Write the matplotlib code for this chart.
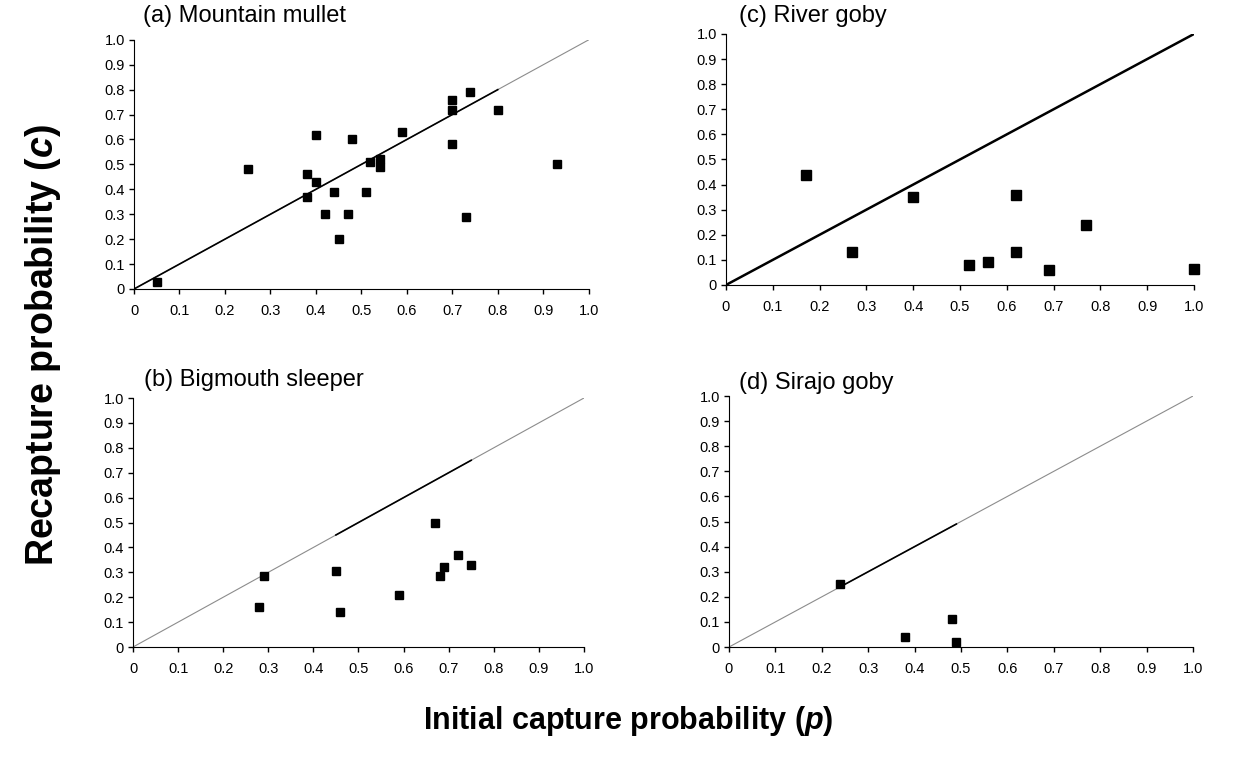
import matplotlib
matplotlib.use("Agg")
import matplotlib.pyplot as plt

plt.rcParams['font.family'] = ['Liberation Sans', 'DejaVu Sans']
plt.rcParams['mathtext.fontset'] = 'custom'
plt.rcParams['mathtext.it'] = 'Liberation Sans:italic:bold'
plt.rcParams['mathtext.rm'] = 'Liberation Sans:bold'

# (a) Mountain mullet
mullet_p = [0.05, 0.25, 0.38, 0.38, 0.40, 0.40, 0.42, 0.44, 0.45, 0.47, 0.48, 0.51,
            0.52, 0.54, 0.54, 0.59, 0.70, 0.70, 0.70, 0.73, 0.74, 0.80, 0.93]
mullet_c = [0.03, 0.48, 0.46, 0.37, 0.62, 0.43, 0.30, 0.39, 0.20, 0.30, 0.60, 0.39,
            0.51, 0.52, 0.49, 0.63, 0.76, 0.72, 0.58, 0.29, 0.79, 0.72, 0.50]

# (b) Bigmouth sleeper
sleeper_p = [0.28, 0.29, 0.45, 0.46, 0.59, 0.67, 0.68, 0.69, 0.72, 0.75]
sleeper_c = [0.16, 0.285, 0.305, 0.14, 0.21, 0.50, 0.285, 0.32, 0.37, 0.33]

# (c) River goby
river_p = [0.17, 0.27, 0.40, 0.52, 0.56, 0.62, 0.62, 0.69, 0.77, 1.0]
river_c = [0.44, 0.13, 0.35, 0.08, 0.09, 0.36, 0.13, 0.06, 0.24, 0.065]

# (d) Sirajo goby
sirajo_p = [0.24, 0.38, 0.48, 0.49]
sirajo_c = [0.25, 0.04, 0.11, 0.02]

titles = ["(a) Mountain mullet", "(b) Bigmouth sleeper", "(c) River goby", "(d) Sirajo goby"]
# range of the darker part of the 1:1 line
dark_ranges = [(0.0, 0.80), (0.45, 0.75), (0.0, 1.0), (0.24, 0.49)]

ticks = [0, 0.1, 0.2, 0.3, 0.4, 0.5, 0.6, 0.7, 0.8, 0.9, 1.0]
tick_labels = ["0", "0.1", "0.2", "0.3", "0.4", "0.5", "0.6", "0.7", "0.8", "0.9", "1.0"]

fig = plt.figure(figsize=(12.56, 7.69), dpi=100)

boxes = [
    [0.1067, 0.6242, 0.362, 0.324],
    [0.1059, 0.1586, 0.359, 0.3238],
    [0.578, 0.6294, 0.3726, 0.3264],
    [0.5804, 0.1586, 0.3694, 0.3264],
]
# title anchor (figure fraction, left / vertical centre)
title_pos = [(0.114, 0.979), (0.115, 0.506), (0.588, 0.979), (0.588, 0.502)]
data = [(mullet_p, mullet_c), (sleeper_p, sleeper_c), (river_p, river_c), (sirajo_p, sirajo_c)]
msizes = [5.5, 5.5, 6.5, 5.5]
dark_lw = [1.2, 1.2, 1.8, 1.2]

for i in range(4):
    px, cy = data[i]
    d0, d1 = dark_ranges[i]
    ax = fig.add_axes(boxes[i])
    ax.plot([0, 1], [0, 1], color="#8c8c8c", lw=0.8, zorder=1)
    ax.plot([d0, d1], [d0, d1], color="black", lw=dark_lw[i], zorder=2)
    ax.plot(px, cy, linestyle="none", marker="s", color="black", ms=msizes[i],
            zorder=3, clip_on=False)
    ax.set_xlim(0, 1.0)
    ax.set_ylim(0, 1.0)
    ax.set_xticks(ticks)
    ax.set_xticklabels(tick_labels)
    ax.set_yticks(ticks)
    ax.set_yticklabels(tick_labels)
    ax.spines["top"].set_visible(False)
    ax.spines["right"].set_visible(False)
    ax.tick_params(direction="out", length=3.5, width=1, labelsize=10.5)
    ax.tick_params(axis="x", pad=7)
    ax.tick_params(axis="y", pad=3)
    fig.text(title_pos[i][0], title_pos[i][1], titles[i], fontsize=17, ha="left", va="center")

fig.text(0.5, 0.062, r"Initial capture probability ($\mathit{p}$)", ha="center", va="center",
         fontsize=22, fontweight="bold")
fig.text(0.034, 0.551, r"Recapture probability ($\mathit{c}$)", ha="center", va="center",
         fontsize=27, fontweight="bold", rotation=90)

fig.savefig("out.png", dpi=100)
